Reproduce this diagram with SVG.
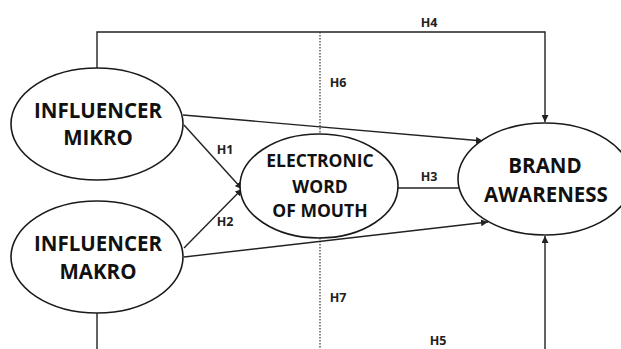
<svg xmlns="http://www.w3.org/2000/svg" width="621" height="349" viewBox="0 0 621 349">
<style>
.node{fill:#fff;stroke:#1a1a1a;stroke-width:1.6}
.t{font-family:"Open Sans","Liberation Sans",sans-serif;font-weight:700;fill:#111;text-anchor:middle}
.big{font-size:20.5px}
.mid{font-size:17.5px}
.lbl{font-family:"Open Sans","Liberation Sans",sans-serif;font-weight:700;fill:#222;font-size:12.5px;text-anchor:middle}
.ln{fill:none;stroke:#222;stroke-width:1.4}
.dot{fill:none;stroke:#333;stroke-width:1.2;stroke-dasharray:1.5 1.5}
</style>
<defs>
<marker id="ah" viewBox="0 0 10 10" refX="10" refY="5" markerWidth="7" markerHeight="7" orient="auto" markerUnits="userSpaceOnUse">
<path d="M0,0 L10,5 L0,10 z" fill="#222"/>
</marker>
</defs>
<rect width="621" height="349" fill="#fff"/>
<g id="connectors">
<polyline class="ln" points="97,68 97,32 545,32 545,122" marker-end="url(#ah)"/>
<line class="dot" x1="320" y1="32" x2="320" y2="134"/>
<line class="dot" x1="320" y1="238" x2="320" y2="349"/>
<line class="ln" x1="183" y1="115" x2="483" y2="141" marker-end="url(#ah)"/>
<line class="ln" x1="184" y1="125" x2="242" y2="189" marker-end="url(#ah)"/>
<line class="ln" x1="184" y1="248" x2="242" y2="189" marker-end="url(#ah)"/>
<line class="ln" x1="184" y1="257" x2="488" y2="222" marker-end="url(#ah)"/>
<line class="ln" x1="398" y1="188" x2="459" y2="188"/>
<line class="ln" x1="97" y1="313" x2="97" y2="349"/>
<line class="ln" x1="545" y1="349" x2="545" y2="236" marker-end="url(#ah)"/>
<text class="lbl" x="429" y="27">H4</text>
<text class="lbl" x="338" y="87">H6</text>
<text class="lbl" x="225" y="154">H1</text>
<text class="lbl" x="225" y="226">H2</text>
<text class="lbl" x="429" y="181">H3</text>
<text class="lbl" x="338" y="302">H7</text>
<text class="lbl" x="438" y="345">H5</text>
</g>
<g id="influencer-mikro">
<ellipse class="node" cx="97" cy="124" rx="86" ry="56"/>
<text class="t big" x="98" y="118">INFLUENCER</text>
<text class="t big" x="98" y="145">MIKRO</text>
</g>
<g id="influencer-makro">
<ellipse class="node" cx="97" cy="257" rx="86" ry="56"/>
<text class="t big" x="98" y="251">INFLUENCER</text>
<text class="t big" x="98" y="279">MAKRO</text>
</g>
<g id="ewom">
<ellipse class="node" cx="319" cy="186" rx="79" ry="52"/>
<text class="t mid" x="320" y="167">ELECTRONIC</text>
<text class="t mid" x="320" y="193">WORD</text>
<text class="t mid" x="320" y="217">OF MOUTH</text>
</g>
<g id="brand-awareness">
<ellipse class="node" cx="545" cy="179" rx="87" ry="56"/>
<text class="t big" x="545" y="173">BRAND</text>
<text class="t big" x="546" y="202">AWARENESS</text>
</g>
</svg>
